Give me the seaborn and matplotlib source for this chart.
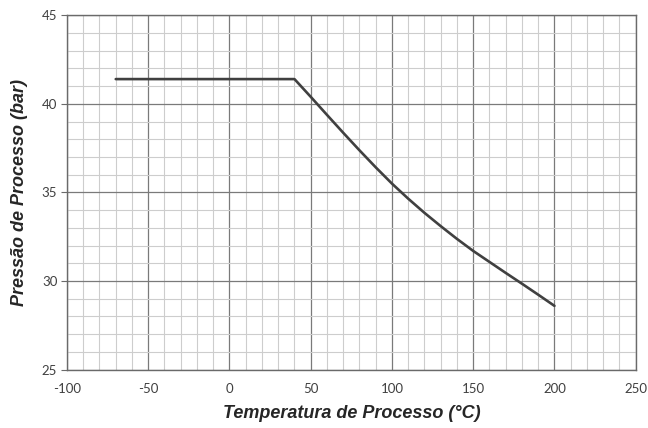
import pandas as pd
import matplotlib.pyplot as plt
import seaborn as sns
from matplotlib.ticker import MultipleLocator

# curve
temperatura = [-70, 40, 50, 60, 70, 80, 90, 100, 110, 120, 130, 140,
               150, 160, 170, 180, 190, 200]
pressao = [41.4, 41.4, 40.4, 39.38, 38.37, 37.38, 36.42, 35.5, 34.65,
           33.85, 33.1, 32.38, 31.7, 31.08, 30.46, 29.85, 29.23, 28.6]

df = pd.DataFrame({'Temperatura': temperatura, 'Pressao': pressao})

sns.set_style('white')
plt.rcParams['font.family'] = ['Liberation Sans', 'DejaVu Sans']
plt.rcParams['axes.unicode_minus'] = False

fig = plt.figure(figsize=(6.48, 4.28), dpi=100)
ax = fig.add_axes([0.1034, 0.1364, 0.8776, 0.8278])

ax.set_xlim(-100, 250)
ax.set_ylim(25, 45)
ax.xaxis.set_major_locator(MultipleLocator(50))
ax.xaxis.set_minor_locator(MultipleLocator(10))
ax.yaxis.set_major_locator(MultipleLocator(5))
ax.yaxis.set_minor_locator(MultipleLocator(1))

ax.grid(which='minor', color='#cdcdcd', linewidth=0.8)
ax.grid(which='major', color='#7a7a7a', linewidth=0.9)
ax.set_axisbelow(True)

sns.lineplot(data=df, x='Temperatura', y='Pressao', ax=ax, color='#404040',
             linewidth=1.9, sort=False)

for s in ax.spines.values():
    s.set_color('#6a6a6a')
    s.set_linewidth(1.0)

for lab in ax.get_xticklabels() + ax.get_yticklabels():
    lab.set_family('Lato')
ax.tick_params(axis='y', which='major', left=True, length=4, color='#6a6a6a',
               labelsize=9.5, labelcolor='#404040', pad=3)
ax.tick_params(axis='x', which='major', bottom=False, labelsize=9.5,
               labelcolor='#404040', pad=6)
ax.tick_params(which='minor', left=False, bottom=False)
plt.setp(ax.get_xticklabels(), family='Lato')
plt.setp(ax.get_yticklabels(), family='Lato')

ax.set_xlabel('Temperatura de Processo (°C)', fontsize=13, fontweight='bold',
              fontstyle='italic', labelpad=7)
ax.set_ylabel('Pressão de Processo (bar)', fontsize=13, fontweight='bold',
              fontstyle='italic', labelpad=10)

fig.savefig('out.png', dpi=100)
